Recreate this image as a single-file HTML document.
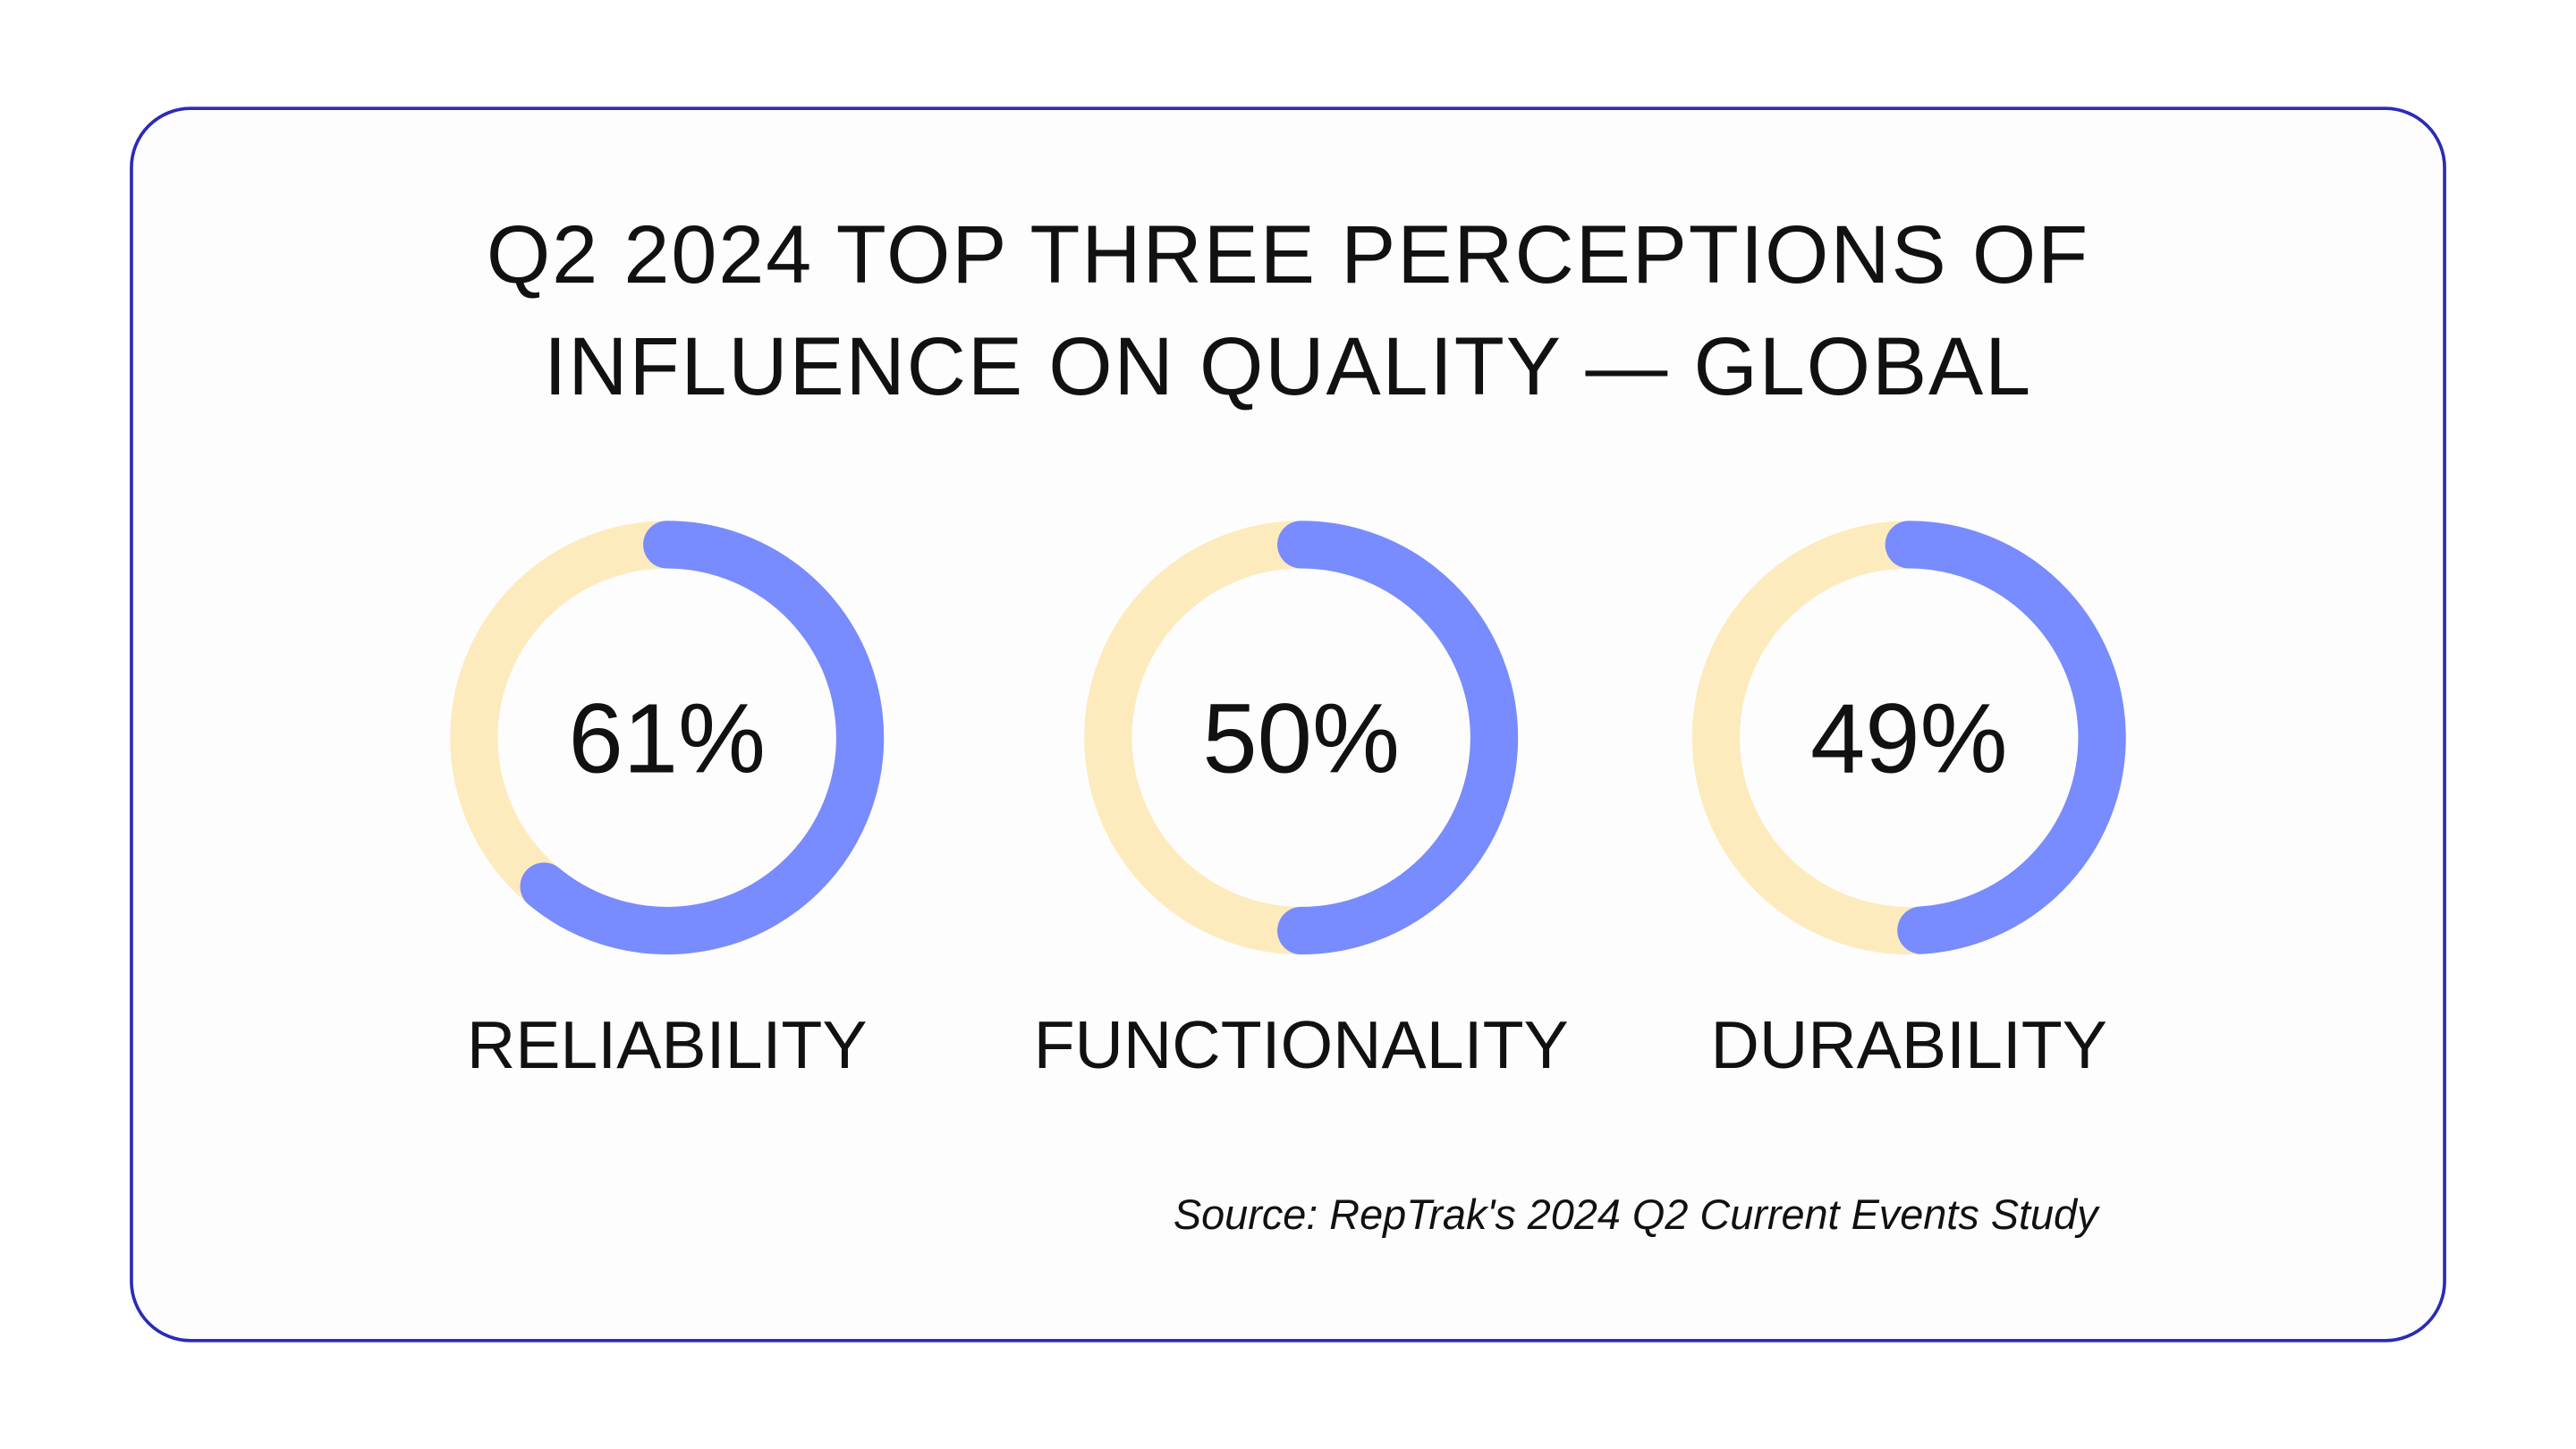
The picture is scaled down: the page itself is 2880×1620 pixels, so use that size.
<!DOCTYPE html>
<html><head><meta charset="utf-8"><style>
html,body{margin:0;padding:0;background:#fff;}
svg{display:block;}
text{font-family:"Liberation Sans",sans-serif;}
</style></head><body>
<svg id="chart" width="2880" height="1620" viewBox="0 0 1568 882" xmlns="http://www.w3.org/2000/svg">
<rect x="80" y="66" width="1408" height="750" rx="36" fill="#fdfdfd" stroke="#2b2bb5" stroke-width="2"/>
<text x="784" y="172" text-anchor="middle" font-size="50" fill="#111" letter-spacing="1">Q2 2024 TOP THREE PERCEPTIONS OF</text>
<text x="784" y="240" text-anchor="middle" font-size="50" fill="#111" letter-spacing="1">INFLUENCE ON QUALITY — GLOBAL</text>
<g id="donuts"></g>
<text x="1277" y="748" text-anchor="end" font-size="25.5" font-style="italic" fill="#111">Source: RepTrak's 2024 Q2 Current Events Study</text>
</svg>
<script>
const categories = ["RELIABILITY","FUNCTIONALITY","DURABILITY"];
const values = [61,50,49];
const centersX = [406,792,1162];
const cy = 449, r = 117.5, sw = 29;
const ns = "http://www.w3.org/2000/svg";
const g = document.getElementById("donuts");
function pt(cx, frac){const a = frac*2*Math.PI; return [cx + r*Math.sin(a), cy - r*Math.cos(a)];}
categories.forEach((cat,i)=>{
  const cx = centersX[i];
  const bg = document.createElementNS(ns,"circle");
  
  
  bg.setAttribute("cx",cx);bg.setAttribute("cy",cy);bg.setAttribute("r",r);
  bg.setAttribute("fill","none");bg.setAttribute("stroke","#fdebbd");bg.setAttribute("stroke-width",sw);
  g.appendChild(bg);
  const f = values[i]/100;
  const s = pt(cx,0), e = pt(cx,f);
  const arc = document.createElementNS(ns,"path");
  
  
  arc.setAttribute("d",`M${s[0]},${s[1]} A${r},${r} 0 ${f>0.5?1:0} 1 ${e[0]},${e[1]}`);
  arc.setAttribute("fill","none");arc.setAttribute("stroke","#788bff");arc.setAttribute("stroke-width",sw);arc.setAttribute("stroke-linecap","round");
  g.appendChild(arc);
  const t = document.createElementNS(ns,"text");
  
  
  t.setAttribute("x",cx);t.setAttribute("y",cy+21);t.setAttribute("text-anchor","middle");
  t.setAttribute("font-size","60");t.setAttribute("fill","#111");
  t.textContent = values[i]+"%";
  g.appendChild(t);
  const l = document.createElementNS(ns,"text");
  
  
  l.setAttribute("x",cx);l.setAttribute("y",650);l.setAttribute("text-anchor","middle");
  l.setAttribute("font-size","41");l.setAttribute("fill","#111");
  l.textContent = cat;
  g.appendChild(l);
});
</script>
</body></html>
